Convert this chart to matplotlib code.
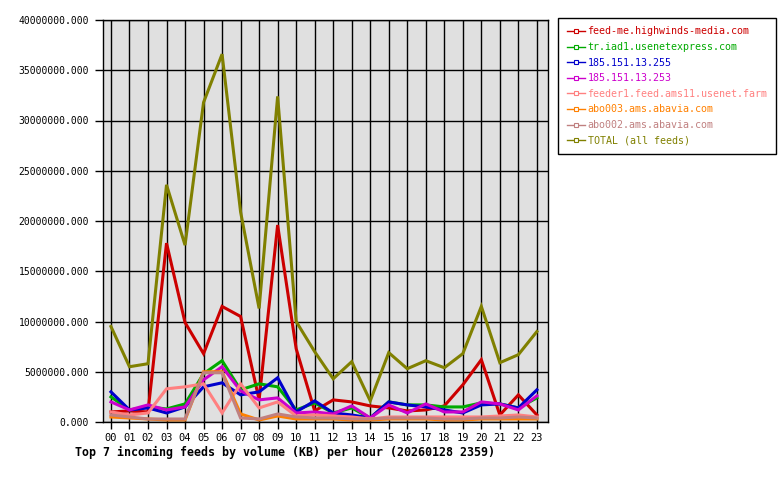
import numpy as np
import matplotlib
matplotlib.use("Agg")
import matplotlib.pyplot as plt
from matplotlib.lines import Line2D

# horas del dia
hours = ["%02d" % h for h in range(24)]

# valores en millones de KB por hora
feed_me = [1.0, 1.1, 1.0, 17.8, 9.9, 6.8, 11.5, 10.5, 2.2, 19.6, 7.3, 1.1,
           2.2, 2.0, 1.6, 1.4, 1.1, 1.2, 1.6, 3.7, 6.2, 0.7, 2.7, 0.7]
iad1 = [2.5, 1.2, 1.5, 1.3, 1.8, 4.8, 6.1, 3.2, 3.8, 3.5, 1.2, 1.9,
        0.9, 1.4, 0.4, 2.0, 1.7, 1.7, 1.5, 1.5, 1.9, 1.8, 1.4, 2.4]
ip_255 = [3.0, 1.2, 1.4, 0.9, 1.5, 3.5, 3.9, 2.7, 3.0, 4.4, 1.0, 2.1,
          0.9, 0.7, 0.4, 2.0, 1.7, 1.5, 1.2, 0.9, 1.7, 1.8, 1.4, 3.2]
ip_253 = [2.0, 1.2, 1.7, 1.2, 1.5, 4.2, 5.5, 3.1, 2.2, 2.4, 0.9, 1.0,
          0.8, 1.6, 0.4, 1.7, 0.9, 1.8, 1.0, 1.0, 2.0, 1.8, 1.2, 2.6]
feeder1 = [1.0, 0.7, 0.9, 3.3, 3.5, 3.8, 0.9, 3.8, 1.4, 2.0, 0.6, 0.7,
           0.6, 0.5, 0.3, 0.5, 0.5, 0.5, 0.5, 0.5, 0.5, 0.6, 0.7, 0.5]
abo003 = [0.5, 0.4, 0.3, 0.2, 0.2, 5.0, 5.0, 0.8, 0.2, 0.6, 0.3, 0.3,
          0.3, 0.2, 0.2, 0.3, 0.3, 0.3, 0.2, 0.2, 0.3, 0.3, 0.3, 0.3]
abo002 = [0.7, 0.5, 0.3, 0.3, 0.3, 4.9, 4.9, 0.4, 0.3, 0.8, 0.5, 0.4,
          0.4, 0.3, 0.3, 0.4, 0.4, 0.4, 0.3, 0.3, 0.4, 0.4, 0.5, 0.4]
total = [9.5, 5.5, 5.8, 23.6, 17.6, 31.8, 36.6, 20.9, 11.3, 32.4, 10.0, 7.0,
         4.3, 6.0, 2.1, 6.9, 5.3, 6.1, 5.4, 6.8, 11.5, 5.9, 6.7, 9.0]

names = ["feed-me.highwinds-media.com", "tr.iad1.usenetexpress.com",
         "185.151.13.255", "185.151.13.253", "feeder1.feed.ams11.usenet.farm",
         "abo003.ams.abavia.com", "abo002.ams.abavia.com", "TOTAL (all feeds)"]
series = [feed_me, iad1, ip_255, ip_253, feeder1, abo003, abo002, total]
colors = ["#cc0000", "#00aa00", "#0000cc", "#cc00cc", "#ff8080",
          "#ff8000", "#c08080", "#808000"]

plt.rcParams['font.family'] = ['DejaVu Sans Mono']

fig = plt.figure(figsize=(7.8, 4.8), dpi=100)
ax = fig.add_axes([103 / 780, 1 - 422 / 480, 445 / 780, 402 / 480])
ax.set_facecolor("#e0e0e0")

x = np.arange(24)
handles = []
for vals, name, c in zip(series, names, colors):
    ax.plot(x, np.array(vals) * 1e6, color=c, linewidth=2.2,
            solid_joinstyle="miter")
    # linea corta con cuadradito para la leyenda
    handles.append(Line2D([], [], color=c, linewidth=1, marker="s",
                          markersize=3, markerfacecolor="white",
                          markeredgewidth=0.8, label=name))

ax.set_xlim(-0.43, 23.6)
ax.set_ylim(0, 40e6)
ax.set_xticks(x)
ax.set_xticklabels(hours)
yt = np.arange(0, 40e6 + 1, 5e6)
ax.set_yticks(yt)
ax.set_yticklabels(["%.3f" % v for v in yt])
ax.grid(True, color="black", linewidth=1)
ax.set_axisbelow(True)
ax.tick_params(direction="out", length=6, width=1, labelsize=7.0, pad=4)
ax.tick_params(axis="x", labelsize=7.5, pad=3, length=5)
for s in ax.spines.values():
    s.set_color("black")
    s.set_linewidth(1)

# leyenda a la derecha
leg = ax.legend(handles=handles, loc="upper left",
                bbox_to_anchor=(558 / 780, 1 - 18 / 480),
                bbox_transform=fig.transFigure, fancybox=False,
                edgecolor="black", framealpha=1, fontsize=7.2,
                labelcolor="linecolor", handlelength=1.8, handletextpad=0.3,
                borderpad=0.85, labelspacing=0.56, borderaxespad=0,
                numpoints=1)
leg.get_frame().set_linewidth(1)

fig.text(75 / 780, 1 - 452 / 480,
         "Top 7 incoming feeds by volume (KB) per hour (20260128 2359)",
         ha="left", va="center", fontsize=8.4, fontweight="bold")

fig.savefig("out.png", dpi=100)
